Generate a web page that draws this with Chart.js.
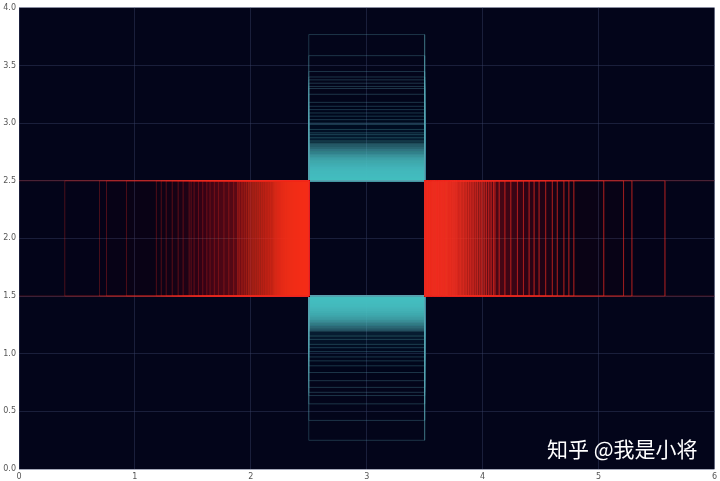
<!DOCTYPE html>
<html>
<head>
<meta charset="utf-8">
<script src="https://cdn.jsdelivr.net/npm/chart.js@4.4.1/dist/chart.umd.min.js"></script>
<style>
  body { margin: 0; background: #fff; }
  #wrap { width: 720px; height: 481px; }
</style>
</head>
<body>
<div id="wrap"><canvas id="boxes"></canvas></div>
<script>
// left red boxes: x from value to 2.5
const leftEdges = [-0.5, 0.395, 0.695, 0.755, 0.927, 1.185, 1.227, 1.27, 1.322, 1.373, 1.416, 1.468,
  1.485, 1.511, 1.548, 1.585, 1.62, 1.648, 1.685, 1.72, 1.768, 1.81, 1.852,
  1.886, 1.891, 1.902, 1.918, 1.931, 1.947, 1.962, 1.98, 1.993, 2.011, 2.026, 2.042, 2.06, 2.074,
  2.093, 2.108, 2.125, 2.139, 2.155, 2.17, 2.183, 2.196,
  2.203, 2.209, 2.213, 2.22, 2.226, 2.23, 2.238, 2.242, 2.249, 2.254, 2.261, 2.266, 2.27, 2.278,
  2.282, 2.289, 2.295, 2.3, 2.304, 2.312, 2.316, 2.323, 2.327, 2.334, 2.339, 2.344, 2.351, 2.355,
  2.362, 2.366, 2.373, 2.377, 2.384, 2.388, 2.395, 2.399, 2.406, 2.41, 2.417, 2.421, 2.426, 2.433,
  2.436, 2.443, 2.447, 2.454, 2.457, 2.464, 2.467, 2.473, 2.477, 2.484, 2.487, 2.492, 2.496];
// right red boxes: x from 3.5 to value
const rightEdges = [3.503, 3.508, 3.511, 3.516, 3.52, 3.525, 3.528, 3.534, 3.537, 3.543, 3.547,
  3.552, 3.556, 3.562, 3.566, 3.572, 3.576, 3.582, 3.586, 3.593, 3.597, 3.604, 3.608, 3.615, 3.62,
  3.627, 3.632, 3.639, 3.644, 3.651, 3.657, 3.664, 3.67, 3.678, 3.684, 3.692, 3.698, 3.707, 3.714,
  3.723, 3.73, 3.74, 3.748, 3.758, 3.766, 3.775,
  3.785, 3.797, 3.808, 3.822, 3.834, 3.849, 3.863, 3.879, 3.893, 3.909, 3.924, 3.941, 3.957, 3.976,
  3.993, 4.013, 4.032, 4.053, 4.073, 4.094,
  4.106, 4.143, 4.192, 4.243, 4.3, 4.352, 4.401, 4.444, 4.487, 4.544, 4.601, 4.644, 4.701, 4.744, 4.787,
  5.045, 5.216, 5.288, 5.573, 6.5];
// top cyan boxes: y from 2.5 to value
const topEdges = [3.768, 3.585, 3.447, 3.4, 3.375, 3.346, 3.318, 3.3, 3.25, 3.18, 3.146, 3.117, 3.088,
  3.06, 3.03, 3.0, 2.988, 2.945, 2.916, 2.9, 2.873, 2.845,
  2.826, 2.817, 2.81, 2.802, 2.793, 2.786, 2.777, 2.77, 2.761, 2.755, 2.747, 2.741, 2.733, 2.727,
  2.719, 2.713, 2.705, 2.7, 2.692, 2.687, 2.68, 2.674, 2.667, 2.662, 2.655, 2.65, 2.643, 2.638,
  2.631, 2.626, 2.619, 2.614, 2.607, 2.602, 2.595, 2.59, 2.583, 2.578, 2.571, 2.566, 2.559, 2.554,
  2.547, 2.542, 2.535, 2.53, 2.523, 2.518, 2.511, 2.505];
// bottom cyan boxes: y from value to 1.5
const bottomEdges = [0.249, 0.4215, 0.565, 0.637, 0.665, 0.708, 0.766, 0.837, 0.895, 0.938, 0.972,
  1.018, 1.052, 1.081, 1.124, 1.153, 1.196,
  1.203, 1.211, 1.217, 1.225, 1.231, 1.239, 1.245, 1.253, 1.259, 1.266, 1.272, 1.279, 1.285, 1.292,
  1.297, 1.304, 1.309, 1.316, 1.321, 1.328, 1.333, 1.34, 1.345, 1.352, 1.357, 1.363, 1.368, 1.375,
  1.379, 1.386, 1.39, 1.397, 1.401, 1.408, 1.412, 1.419, 1.423, 1.43, 1.434, 1.441, 1.445, 1.452,
  1.456, 1.463, 1.467, 1.474, 1.478, 1.485, 1.489, 1.495];
const redBand = [1.5, 2.5];   // y range of red boxes
const cyanBand = [2.5, 3.5];  // x range of cyan boxes

function rect(x0, x1, y0, y1) {
  return [{x: x0, y: y0}, {x: x0, y: y1}, {x: x1, y: y1}, {x: x1, y: y0}, {x: x0, y: y0}];
}

// short boxes are drawn more opaque than long ones
const redAlpha = w => Math.min(0.08, 0.0567 / Math.pow(w + 0.6, 2));
const cyanAlpha = w => Math.min(0.08, 0.363 * Math.exp(-w / 0.15));
const red = a => `rgba(255,62,38,${a.toFixed(4)})`;
const cyan = a => `rgba(82,198,202,${a.toFixed(4)})`;
const redLine = 'rgba(240,45,35,0.3)';
const cyanLine = 'rgba(90,165,180,0.3)';

const datasets = [];
leftEdges.forEach(v => datasets.push({data: rect(v, cyanBand[0], redBand[0], redBand[1]),
  backgroundColor: red(redAlpha(cyanBand[0] - v)), borderColor: redLine}));
rightEdges.forEach(v => datasets.push({data: rect(cyanBand[1], v, redBand[0], redBand[1]),
  backgroundColor: red(redAlpha(v - cyanBand[1])), borderColor: redLine}));
topEdges.forEach(v => datasets.push({data: rect(cyanBand[0], cyanBand[1], redBand[1], v),
  backgroundColor: cyan(cyanAlpha(v - redBand[1])), borderColor: cyanLine}));
bottomEdges.forEach(v => datasets.push({data: rect(cyanBand[0], cyanBand[1], v, redBand[0]),
  backgroundColor: cyan(cyanAlpha(redBand[0] - v)), borderColor: cyanLine}));

datasets.forEach(d => {
  d.showLine = true;
  d.fill = 'shape';
  d.borderWidth = 1;
  d.pointRadius = 0;
});

// centre square outline
datasets.push({
  data: [{x: cyanBand[0], y: redBand[1]}, {x: cyanBand[1], y: redBand[1]}, {x: null, y: null},
    {x: cyanBand[0], y: redBand[0]}, {x: cyanBand[1], y: redBand[0]}],
  showLine: true, fill: false, borderColor: 'rgba(235,60,45,0.9)', borderWidth: 1, pointRadius: 0
});

const bgPlugin = {
  id: 'bg',
  beforeDraw(chart) {
    const {ctx, chartArea: a} = chart;
    ctx.save();
    ctx.fillStyle = '#ffffff';
    ctx.fillRect(0, 0, chart.width, chart.height);
    ctx.fillStyle = '#03051a';
    ctx.fillRect(a.left, a.top, a.right - a.left, a.bottom - a.top);
    ctx.restore();
  },
  afterDraw(chart) {
    const ctx = chart.ctx;
    ctx.save();
    ctx.fillStyle = '#ffffff';
    ctx.font = '21px "Noto Sans CJK SC"';
    ctx.textBaseline = 'middle';
    ctx.fillText('知乎 @我是小将', 547, 449);
    ctx.restore();
  }
};

const tickFont = {family: 'DejaVu Sans', size: 8};
new Chart(document.getElementById('boxes'), {
  type: 'scatter',
  data: {datasets: datasets},
  options: {
    responsive: true,
    maintainAspectRatio: false,
    animation: false,
    layout: {padding: {top: 4, right: 2, left: 0, bottom: 0}},
    plugins: {legend: {display: false}, tooltip: {enabled: false}},
    scales: {
      x: {
        type: 'linear', min: 0, max: 6, z: 1,
        ticks: {stepSize: 1, color: '#555', font: tickFont, padding: 3},
        grid: {color: 'rgba(55,65,100,0.45)', drawTicks: false},
        border: {display: false},
        afterFit(s) { s.height = 12; }
      },
      y: {
        min: 0, max: 4, z: 1,
        ticks: {stepSize: 0.5, color: '#555', font: tickFont, padding: 3,
          callback: v => v.toFixed(1)},
        grid: {color: 'rgba(55,65,100,0.45)', drawTicks: false},
        border: {display: false},
        afterFit(s) { s.width = 19; }
      }
    }
  },
  plugins: [bgPlugin]
});
</script>
</body>
</html>
